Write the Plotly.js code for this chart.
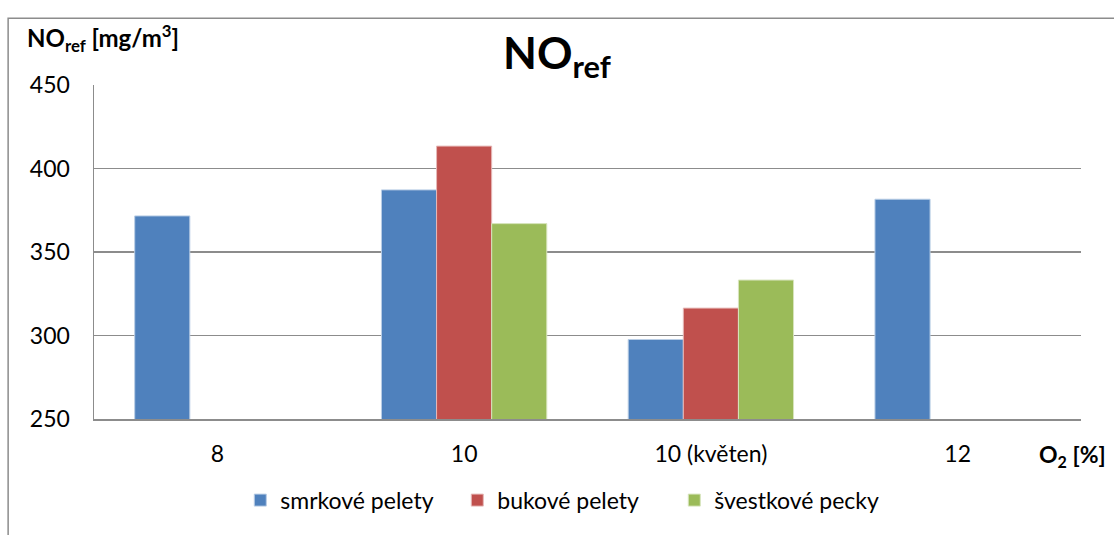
<!DOCTYPE html>
<html>
<head>
<meta charset="utf-8">
<script src="https://cdn.plot.ly/plotly-3.0.1.min.js"></script>
<style>html,body{margin:0;padding:0;background:#fff;}#chart{width:1114px;height:535px;}</style>
</head>
<body>
<div id="chart"></div>
<script>
const categories = ["8", "10", "10 (květen)", "12"];
const seriesNames = ["smrkové pelety", "bukové pelety", "švestkové pecky"];
const smrkove = [371.6, 387.2, 297.6, 381.6];
const bukove = [null, 413.4, 316.4, null];
const svestkove = [null, 367.0, 333.2, null];
const yTicks = [250, 300, 350, 400, 450];
const colors = ["#4F81BD", "#C0504D", "#9BBB59"];
const lineColors = ["#B9CDE5", "#E6B9B8", "#D7E4BD"];

const values = [smrkove, bukove, svestkove];
const traces = values.map((v, i) => ({
  type: "bar",
  name: seriesNames[i],
  x: categories,
  y: v,
  marker: {color: colors[i], line: {color: lineColors[i], width: 1}},
  hoverinfo: "x+y+name"
}));

const font = "Lato, 'Open Sans', sans-serif";
const layout = {
  width: 1114, height: 535,
  margin: {l: 94, r: 33, t: 85, b: 116},
  paper_bgcolor: "#fff", plot_bgcolor: "#fff",
  barmode: "group", bargap: 0.33, bargroupgap: 0,
  font: {family: font, size: 23, color: "#000"},
  title: {text: "<b>NO<sub>ref</sub></b>", font: {family: font, size: 44, color: "#000"},
          x: 0.5, xanchor: "center", xref: "container", y: 0.9, yref: "container", yanchor: "middle"},
  xaxis: {type: "category", showgrid: false, showline: true, linecolor: "#8c8c8c", linewidth: 1.5,
          ticks: "", tickfont: {family: font, size: 23}, ticklabelstandoff: 14, fixedrange: true},
  yaxis: {range: [250, 450], tickvals: yTicks, ticktext: yTicks.map(String), showgrid: true,
          gridcolor: "#8c8c8c", gridwidth: 1.5, showline: true, linecolor: "#8c8c8c", linewidth: 1.5,
          zeroline: false, ticks: "", tickfont: {family: font, size: 23}, ticklabelstandoff: 18, fixedrange: true},
  showlegend: true,
  legend: {orientation: "h", x: 0.478, xanchor: "center", y: -0.243, yanchor: "middle",
           font: {family: font, size: 23}, itemwidth: 30, traceorder: "normal",
           entrywidth: 172, entrywidthmode: "pixels"},
  annotations: [
    {text: "<b>NO<sub>ref</sub> [mg/m<sup>3</sup>]</b>", xref: "paper", yref: "paper",
     x: -0.07, y: 1.14, xanchor: "left", yanchor: "middle", showarrow: false,
     font: {family: font, size: 24, color: "#000"}},
    {text: "<b>O<sub>2</sub> [%]</b>", xref: "paper", yref: "paper",
     x: 1.027, y: -0.11, xanchor: "right", yanchor: "middle", showarrow: false,
     font: {family: font, size: 23, color: "#000"}}
  ],
  shapes: [
    {type: "rect", xref: "paper", yref: "paper", x0: -0.087, x1: 1.2, y0: -0.5, y1: 1.2,
     line: {color: "#8c8c8c", width: 1.5}, layer: "below"}
  ]
};
Plotly.newPlot("chart", traces, layout, {displayModeBar: false, staticPlot: true});
</script>
</body>
</html>
